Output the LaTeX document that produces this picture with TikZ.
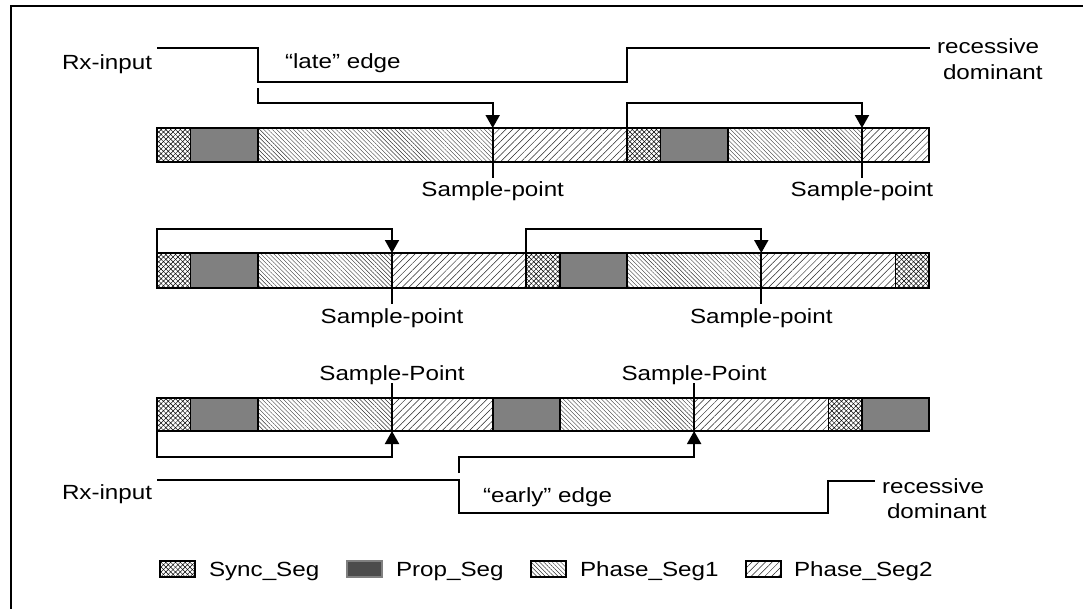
\documentclass[tikz,border=0pt]{standalone}
\usepackage{fontspec}
\setmainfont{Liberation Sans}[FakeStretch=1.18]
\usetikzlibrary{patterns.meta,arrows.meta}
\tikzset{
  lbl/.style={font=\fontsize{20.5}{24}\selectfont, inner sep=0pt, outer sep=0pt},
  sig/.style={line width=2pt},
  arr/.style={line width=2pt, -{Triangle[length=13pt,width=14pt]}},
  tick/.style={line width=2.4pt},
  segline/.style={draw, line width=1.8pt},
  sync/.style={pattern={Lines[angle=45,distance=3.4pt,line width=0.5pt]},
               preaction={pattern={Lines[angle=-45,distance=3.4pt,line width=0.5pt]}}},
  prop/.style={fill=black!50},
  ph1/.style={pattern={Lines[angle=-45,distance=3pt,line width=0.4pt]}, pattern color=black!80},
  ph2/.style={pattern={Lines[angle=45,distance=4.8pt,line width=0.5pt]}, pattern color=black!85},
}
\begin{document}
\begin{tikzpicture}[x=1pt,y=-1pt]
\useasboundingbox (0,0) rectangle (1083,608);
\fill[white] (0,0) rectangle (1083,608);
\clip (0,0) rectangle (1083,608);
\draw[line width=2pt] (11,6) rectangle (1110,640);

% ---------- row 1 ----------
\foreach \a/\b/\s in {0/1/sync,1/3/prop,3/10/ph1,10/14/ph2,14/15/sync,15/17/prop,17/21/ph1,21/23/ph2}{
  \path[\s,segline] ({157+33.57*\a},128) rectangle ({157+33.57*\b},162);
}
\coordinate (r1s) at (157,48);
\coordinate (r1e) at (930,48);
\draw[sig] (r1s) -- ({157+33.57*3},48) -- ({157+33.57*3},82) -- ({157+33.57*14},82) -- ({157+33.57*14},48) -- (r1e);
\node[lbl,anchor=base west] (rx1) at (62,69) {Rx-input};
\node[lbl,anchor=base west] (late) at (285,68) {“late” edge};
\node[lbl,anchor=base west] (rec1) at (937,53) {recessive};
\node[lbl,anchor=base west] (dom1) at (943,79) {dominant};

\coordinate (a1) at ({157+33.57*3},88);
\coordinate (s1) at ({157+33.57*10},128);
\coordinate (s1e) at ({157+33.57*10},178);
\coordinate (a2) at ({157+33.57*14},128);
\coordinate (s2) at ({157+33.57*21},128);
\coordinate (s2e) at ({157+33.57*21},178);
\draw[tick] (s1) -- (s1e);
\draw[tick] (s2) -- (s2e);
\draw[arr] (a1) -- ++(0,15) -| (s1);
\draw[arr] (a2) -- ++(0,-25) -| (s2);
\node[lbl,anchor=base] (sp1) at ({157+33.57*10},196) {Sample-point};
\node[lbl,anchor=base] (sp2) at ({157+33.57*21},196) {Sample-point};

% ---------- row 2 ----------
\foreach \a/\b/\s in {0/1/sync,1/3/prop,3/7/ph1,7/11/ph2,11/12/sync,12/14/prop,14/18/ph1,18/22/ph2,22/23/sync}{
  \path[\s,segline] ({157+33.57*\a},253) rectangle ({157+33.57*\b},288);
}
\coordinate (b1) at (157,253);
\coordinate (t1) at ({157+33.57*7},253);
\coordinate (t1e) at ({157+33.57*7},304);
\coordinate (b2) at ({157+33.57*11},253);
\coordinate (t2) at ({157+33.57*18},253);
\coordinate (t2e) at ({157+33.57*18},304);
\draw[tick] (t1) -- (t1e);
\draw[tick] (t2) -- (t2e);
\draw[arr] (b1) -- ++(0,-24) -| (t1);
\draw[arr] (b2) -- ++(0,-24) -| (t2);
\node[lbl,anchor=base] (sp3) at ({157+33.57*7},323) {Sample-point};
\node[lbl,anchor=base] (sp4) at ({157+33.57*18},323) {Sample-point};

% ---------- row 3 ----------
\foreach \a/\b/\s in {0/1/sync,1/3/prop,3/7/ph1,7/10/ph2,10/12/prop,12/16/ph1,16/20/ph2,20/21/sync,21/23/prop}{
  \path[\s,segline] ({157+33.57*\a},398) rectangle ({157+33.57*\b},431);
}
\coordinate (u1) at ({157+33.57*7},431);
\coordinate (u1t) at ({157+33.57*7},383);
\coordinate (u2) at ({157+33.57*16},431);
\coordinate (u2t) at ({157+33.57*16},383);
\coordinate (c1) at (157,431);
\coordinate (c2) at ({157+33.57*9},473);
\draw[tick] (u1t) -- (u1);
\draw[tick] (u2t) -- (u2);
\draw[arr] (c1) -- ++(0,26) -| (u1);
\draw[arr] (c2) -- ++(0,-16) -| (u2);
\node[lbl,anchor=base] (sp5) at ({157+33.57*7},380) {Sample-Point};
\node[lbl,anchor=base] (sp6) at ({157+33.57*16},380) {Sample-Point};

\coordinate (r3s) at (157,480);
\coordinate (r3e) at (875,481);
\draw[sig] (r3s) -- ({157+33.57*9},480) -- ({157+33.57*9},513) -- ({157+33.57*20},513) -- ({157+33.57*20},481) -- (r3e);
\node[lbl,anchor=base west] (rx3) at (62,499) {Rx-input};
\node[lbl,anchor=base west] (early) at (483,502) {“early” edge};
\node[lbl,anchor=base west] (rec3) at (882,493) {recessive};
\node[lbl,anchor=base west] (dom3) at (887,518) {dominant};

% ---------- legend ----------
\path[sync,draw,line width=1.6pt] (160,561) rectangle (195,577);
\node[lbl,anchor=base west] (lg1) at (209,576) {Sync\_Seg};
\path[fill=black!70,draw=black!50,line width=1.6pt] (347,561) rectangle (382,577);
\node[lbl,anchor=base west] (lg2) at (396,576) {Prop\_Seg};
\path[ph1,draw,line width=1.6pt] (531,561) rectangle (566,577);
\node[lbl,anchor=base west] (lg3) at (580,576) {Phase\_Seg1};
\path[ph2,draw,line width=1.6pt] (746,561) rectangle (781,577);
\node[lbl,anchor=base west] (lg4) at (794,576) {Phase\_Seg2};
\end{tikzpicture}
\end{document}
